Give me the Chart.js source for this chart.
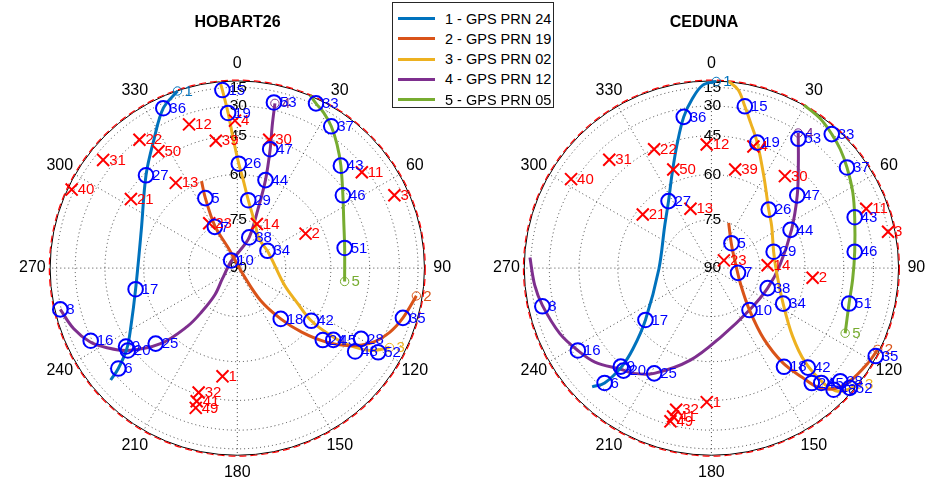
<!DOCTYPE html>
<html>
<head>
<meta charset="utf-8">
<title>Skyplots</title>
<script src="https://cdn.jsdelivr.net/npm/chart.js@4.4.0/dist/chart.umd.min.js"></script>
<style>
  html, body { margin: 0; padding: 0; background: #ffffff; }
  #wrap { position: relative; width: 932px; height: 495px; overflow: hidden;
          font-family: "Liberation Sans", Arial, Helvetica, sans-serif; }
  #wrap canvas { position: absolute; top: 0; }
  #legend { position: absolute; left: 392px; top: 2px; width: 162px; height: 106px;
            border: 1px solid #262626; background: #ffffff; box-sizing: border-box; z-index: 5; }
  #legend .row { position: absolute; left: 0; height: 20px; width: 100%; }
  #legend .swatch { position: absolute; left: 5px; top: 8.5px; width: 37px; height: 3px; }
  #legend .txt { position: absolute; left: 52px; top: 0; line-height: 20px; font-size: 14.5px; color: #000; white-space: nowrap; }
</style>
</head>
<body>
<div id="wrap">
  <canvas id="hobart" width="466" height="495" style="left:0px"></canvas>
  <canvas id="ceduna" width="466" height="495" style="left:466px"></canvas>
  <div id="legend"></div>
</div>
<script>
// ---- satellites ----
const SAT_NAMES = ['1 - GPS PRN 24', '2 - GPS PRN 19', '3 - GPS PRN 02', '4 - GPS PRN 12', '5 - GPS PRN 05'];

// ---- HOBART26: satellite tracks, [azimuth deg, elevation deg] ----
const HOB_PRN24 = [[341.3,5.0],[335.1,20.1],[326.9,35.3],[315.4,46.0],[291.2,56.6],[258.3,56.3],[241.3,49.6],[234.0,43.2],[229.9,33.8],[228.6,25.6]];
const HOB_PRN19 = [[98.8,14.5],[106.7,22.5],[112.8,28.0],[119.0,34.9],[124.6,43.3],[129.8,52.1],[134.8,61.0],[139.4,69.1],[144.2,77.6],[140.2,86.6],[335.7,83.2],[331.9,75.3],[335.4,65.8],[337.6,59.9]];
const HOB_PRN02 = [[117.5,23.5],[121.7,33.3],[124.7,44.2],[125.8,53.1],[125.4,61.0],[119.9,68.4],[110.0,74.4],[63.8,79.3],[36.0,78.7],[21.5,75.1],[9.2,68.5],[4.1,62.3],[0.8,56.2],[358.1,46.0],[356.6,34.1],[355.2,17.8],[354.6,1.0]];
const HOB_PRN12 = [[12.9,25.8],[13.8,38.5],[15.5,48.9],[17.8,60.5],[19.4,70.7],[21.3,79.9],[7.9,84.7],[317.1,87.2],[234.6,84.4],[220.0,79.2],[219.2,72.4],[220.7,65.7],[225.5,54.9],[233.1,43.0],[238.9,35.0],[243.5,28.3],[249.8,21.2],[256.9,13.8]];
const HOB_PRN05 = [[97.1,54.7],[79.4,54.3],[66.3,51.6],[55.5,46.8],[45.4,39.0],[39.0,32.1],[33.6,24.9],[29.2,18.7],[25.6,13.3],[22.9,0.5]];

// HOBART26: numbered observation points on the tracks
const HOB_OBS_ID = [15, 36, 19, 27, 26, 5, 7, 53, 33, 37, 47, 43, 44, 29, 46, 38, 34, 10, 51, 18, 42, 24, 45, 28, 48, 52, 35, 17, 9, 20, 6, 25, 16, 8];
const HOB_OBS_AZ = [355.2, 335.1, 356.6, 315.4, 0.8, 335.4, 331.3, 12.5, 25.6, 33.6, 15.5, 45.4, 17.8, 9.2, 55.5, 21.3, 60.3, 320.9, 79.4, 139.4, 125.4, 130.0, 126.7, 119.7, 125.2, 120.8, 106.7, 258.3, 234.9, 233.1, 229.9, 227.3, 243.7, 256.9];
const HOB_OBS_EL = [17.8, 20.1, 34.1, 46.0, 56.2, 65.8, 75.5, 25.3, 13.3, 24.9, 48.9, 39.0, 60.5, 68.5, 46.8, 79.9, 79.3, 87.0, 54.3, 69.1, 61.0, 53.4, 50.2, 40.4, 39.6, 28.8, 22.5, 56.3, 43.4, 43.0, 33.8, 53.6, 29.1, 13.8];

// HOBART26: numbered points marked with a cross
const HOB_MISS_ID = [12, 4, 22, 39, 50, 31, 13, 40, 21, 23, 30, 11, 3, 14, 2, 1, 32, 41, 49];
const HOB_MISS_AZ = [341.4, 359.1, 322.6, 350.4, 325.9, 308.8, 324.1, 295.3, 302.9, 327.9, 14.0, 52.5, 65.2, 24.0, 63.3, 187.8, 197.3, 197.0, 196.6];
const HOB_MISS_EL = [36.1, 38.2, 30.6, 46.5, 41.3, 23.1, 55.9, 11.8, 47.4, 73.6, 45.2, 33.0, 22.4, 75.1, 65.9, 54.4, 46.0, 42.1, 39.0];

// ---- CEDUNA: satellite tracks, [azimuth deg, elevation deg] ----
const CED_PRN24 = [[1.5,5.8],[357.3,12.6],[353.6,24.6],[349.6,35.0],[344.4,46.9],[337.5,56.8],[327.3,64.9],[311.9,70.4],[269.0,73.7],[231.9,63.4],[224.3,53.2],[222.4,44.7],[223.0,33.2],[225.2,26.1]];
const CED_PRN19 = [[116.0,8.8],[120.7,11.8],[129.1,17.5],[134.6,23.6],[138.2,31.9],[140.2,40.8],[142.9,50.7],[143.4,62.0],[137.7,72.4],[120.1,79.5],[85.6,82.4],[41.2,80.6],[21.0,75.1]];
const CED_PRN02 = [[128.4,2.0],[132.4,14.6],[134.6,21.5],[135.7,30.4],[135.0,45.0],[129.9,55.6],[116.3,64.7],[93.4,69.6],[75.3,69.9],[55.1,66.9],[44.5,64.1],[29.8,55.7],[20.1,44.6],[15.1,36.6],[11.7,28.3],[8.6,16.3],[5.2,0.5]];
const CED_PRN12 = [[32.8,31.1],[39.9,43.6],[49.8,53.1],[64.5,61.7],[86.8,68.4],[109.6,71.4],[137.7,72.4],[171.2,68.5],[192.9,59.8],[208.6,50.3],[216.7,45.6],[221.6,43.7],[231.2,37.0],[238.4,33.1],[246.8,28.1],[257.6,22.4],[264.4,18.5],[273.3,13.8]];
const CED_PRN05 = [[115.9,37.4],[104.4,40.6],[94.3,40.8],[83.5,39.6],[70.5,35.7],[61.9,31.1],[53.5,25.7],[47.4,20.7],[42.0,16.1],[36.2,9.7],[29.7,0.5]];

// CEDUNA: numbered observation points on the tracks
const CED_OBS_ID = [15, 36, 19, 53, 33, 37, 47, 26, 27, 43, 44, 5, 29, 46, 7, 38, 34, 51, 10, 17, 8, 16, 9, 20, 25, 6, 35, 18, 42, 24, 45, 48, 28, 52];
const CED_OBS_AZ = [11.7, 349.6, 20.1, 34.0, 42.0, 53.5, 49.8, 44.5, 327.3, 70.5, 64.3, 38.9, 75.3, 83.5, 100.1, 109.6, 116.3, 104.4, 137.7, 231.9, 257.3, 238.4, 222.7, 220.7, 208.6, 223.0, 118.1, 143.6, 135.8, 138.8, 136.2, 134.8, 131.2, 130.8];
const CED_OBS_EL = [28.3, 35.0, 44.6, 33.8, 16.1, 25.7, 53.1, 64.1, 64.9, 35.7, 62.0, 80.2, 69.9, 39.6, 81.7, 71.4, 64.7, 40.6, 72.4, 63.4, 22.2, 33.1, 44.4, 43.9, 50.3, 33.2, 5.6, 49.2, 42.3, 35.5, 32.0, 23.1, 23.8, 12.4];

// CEDUNA: numbered points marked with a cross
const CED_MISS_ID = [22, 31, 50, 40, 21, 13, 12, 4, 39, 30, 11, 3, 23, 14, 2, 1, 32, 41, 49];
const CED_MISS_AZ = [334.2, 316.6, 338.8, 302.3, 307.9, 340.5, 357.8, 19.1, 13.6, 38.7, 69.1, 78.4, 58.4, 87.1, 95.4, 182.0, 194.0, 194.5, 195.0];
const CED_MISS_EL = [45.3, 37.4, 55.7, 27.5, 62.3, 70.4, 48.8, 46.7, 57.3, 51.1, 27.7, 15.5, 85.5, 72.5, 57.1, 44.4, 38.9, 35.2, 32.3];

// ---- axis ticks ----
const AZ_TICKS = [0, 30, 60, 90, 120, 150, 180, 210, 240, 270, 300, 330];
const EL_TICKS = [15, 30, 45, 60, 75, 90];

// ---- styling ----
const SAT_COLORS = ['#0072BD', '#D95319', '#EDB120', '#7E2F8E', '#77AC30'];
const FONT = '"Liberation Sans", Arial, Helvetica, sans-serif';
const OBS_COLOR = '#0000FF';
const MISS_COLOR = '#FF0000';

// orthographic sky projection: zenith at centre, north up, east right
const DEG = Math.PI / 180;
function sky(az, el) {
  const r = Math.cos(el * DEG);
  return { x: r * Math.sin(az * DEG), y: r * Math.cos(az * DEG) };
}

// legend
(function buildLegend() {
  const box = document.getElementById('legend');
  SAT_NAMES.forEach((name, i) => {
    const row = document.createElement('div');
    row.className = 'row';
    row.style.top = (5.5 + i * 20.3) + 'px';
    const sw = document.createElement('div');
    sw.className = 'swatch';
    sw.style.background = SAT_COLORS[i];
    const tx = document.createElement('div');
    tx.className = 'txt';
    tx.textContent = name;
    row.appendChild(sw);
    row.appendChild(tx);
    box.appendChild(row);
  });
})();

// polar grid, tick labels and title
const skyGrid = {
  id: 'skyGrid',
  beforeDatasetsDraw(chart, args, opts) {
    const { ctx, scales: { x, y } } = chart;
    const cx = x.getPixelForValue(0), cy = y.getPixelForValue(0);
    const R = x.getPixelForValue(1) - cx;
    ctx.save();
    // dotted elevation rings and azimuth spokes
    ctx.strokeStyle = 'rgba(40,40,40,0.85)';
    ctx.lineWidth = 1;
    ctx.setLineDash([1, 3]);
    EL_TICKS.forEach(el => {
      if (el >= 90) return;
      ctx.beginPath();
      ctx.arc(cx, cy, R * Math.cos(el * DEG), 0, 2 * Math.PI);
      ctx.stroke();
    });
    AZ_TICKS.forEach(az => {
      ctx.beginPath();
      ctx.moveTo(cx, cy);
      ctx.lineTo(cx + R * Math.sin(az * DEG), cy - R * Math.cos(az * DEG));
      ctx.stroke();
    });
    // horizon
    ctx.setLineDash([]);
    ctx.strokeStyle = '#000000';
    ctx.beginPath();
    ctx.arc(cx, cy, R, 0, 2 * Math.PI);
    ctx.stroke();
    // elevation mask
    ctx.strokeStyle = '#FF0000';
    ctx.lineWidth = 1.2;
    ctx.setLineDash([7, 4]);
    ctx.beginPath();
    ctx.arc(cx, cy, R + 0.8, 0, 2 * Math.PI);
    ctx.stroke();
    ctx.setLineDash([]);
    // tick labels
    ctx.fillStyle = '#000000';
    ctx.textAlign = 'center';
    ctx.textBaseline = 'middle';
    ctx.font = '16px ' + FONT;
    const rl = R * 1.095;
    AZ_TICKS.forEach(az => {
      ctx.fillText(String(az), cx + rl * Math.sin(az * DEG), cy - rl * Math.cos(az * DEG));
    });
    ctx.font = '15.5px ' + FONT;
    EL_TICKS.forEach(el => {
      ctx.fillText(String(el), cx + 1, cy - R * Math.cos(el * DEG));
    });
    // title
    ctx.font = 'bold 16px ' + FONT;
    ctx.fillText(opts.title, opts.titleX, 23);
    ctx.restore();
  },
  afterDatasetsDraw(chart) {
    const ctx = chart.ctx;
    ctx.save();
    ctx.textAlign = 'left';
    ctx.textBaseline = 'middle';
    ctx.font = '15px ' + FONT;
    chart.data.datasets.forEach((ds, i) => {
      if (!ds.pointText) return;
      const meta = chart.getDatasetMeta(i);
      meta.data.forEach((pt, j) => {
        ctx.fillStyle = Array.isArray(ds.textColor) ? ds.textColor[j] : ds.textColor;
        ctx.fillText(ds.pointText[j], pt.x + ds.textGap, pt.y + 0.5);
      });
    });
    ctx.restore();
  }
};

function skyplot(canvasId, title, titleX, cx, cy, R, tracks, obsId, obsAz, obsEl, missId, missAz, missEl) {
  const canvas = document.getElementById(canvasId);
  const W = canvas.width, H = canvas.height;
  const datasets = [];
  tracks.forEach((trk, i) => {
    datasets.push({
      data: trk.map(p => sky(p[0], p[1])),
      showLine: true, borderColor: SAT_COLORS[i], borderWidth: 3,
      pointRadius: 0, tension: 0.35, order: 10, clip: false
    });
  });
  // start of each track, numbered by satellite
  datasets.push({
    data: tracks.map(t => sky(t[0][0], t[0][1])),
    pointStyle: 'circle', pointRadius: 4.2, pointBorderWidth: 1,
    pointBorderColor: SAT_COLORS, pointBackgroundColor: 'rgba(0,0,0,0)',
    borderColor: SAT_COLORS, backgroundColor: 'rgba(0,0,0,0)',
    pointText: tracks.map((t, i) => String(i + 1)), textColor: SAT_COLORS, textGap: 7,
    order: 9, clip: false
  });
  datasets.push({
    data: missAz.map((az, i) => sky(az, missEl[i])),
    pointStyle: 'crossRot', pointRadius: 8.5, pointBorderWidth: 2,
    pointBorderColor: MISS_COLOR, borderColor: MISS_COLOR, backgroundColor: 'rgba(0,0,0,0)',
    pointText: missId.map(String), textColor: MISS_COLOR, textGap: 6,
    order: 8, clip: false
  });
  datasets.push({
    data: obsAz.map((az, i) => sky(az, obsEl[i])),
    pointStyle: 'circle', pointRadius: 7.3, pointBorderWidth: 2,
    pointBorderColor: OBS_COLOR, pointBackgroundColor: 'rgba(0,0,0,0)',
    borderColor: OBS_COLOR, backgroundColor: 'rgba(0,0,0,0)',
    pointText: obsId.map(String), textColor: OBS_COLOR, textGap: 6,
    order: 7, clip: false
  });
  return new Chart(canvas, {
    type: 'scatter',
    data: { datasets },
    options: {
      responsive: false, animation: false, devicePixelRatio: 1, events: [],
      layout: { padding: 0 },
      scales: {
        x: { type: 'linear', display: false, min: -cx / R, max: (W - cx) / R },
        y: { type: 'linear', display: false, min: -(H - cy) / R, max: cy / R }
      },
      plugins: {
        legend: { display: false }, tooltip: { enabled: false },
        skyGrid: { title, titleX }
      }
    },
    plugins: [skyGrid]
  });
}

skyplot('hobart', 'HOBART26', 237.5, 237.5, 269, 196,
  [HOB_PRN24, HOB_PRN19, HOB_PRN02, HOB_PRN12, HOB_PRN05],
  HOB_OBS_ID, HOB_OBS_AZ, HOB_OBS_EL, HOB_MISS_ID, HOB_MISS_AZ, HOB_MISS_EL);

skyplot('ceduna', 'CEDUNA', 238, 246, 269, 196,
  [CED_PRN24, CED_PRN19, CED_PRN02, CED_PRN12, CED_PRN05],
  CED_OBS_ID, CED_OBS_AZ, CED_OBS_EL, CED_MISS_ID, CED_MISS_AZ, CED_MISS_EL);
</script>
</body>
</html>
